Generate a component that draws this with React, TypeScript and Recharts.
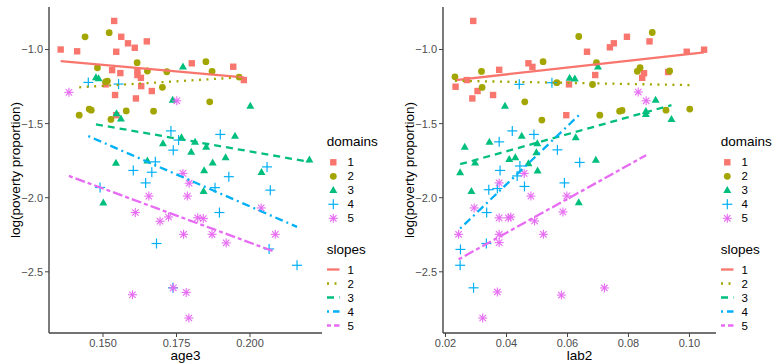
import { ScatterChart, Scatter, XAxis, YAxis } from 'recharts';

const FONT = '"Liberation Sans", Arial, sans-serif';
const COLORS = ['#F8766D', '#A3A500', '#00BF7D', '#00B0F6', '#E76BF3'];
const GROUPS = ['1', '2', '3', '4', '5'];
const SHAPES = ['square', 'circle', 'triangle', 'plus', 'asterisk'];
const DASHES = ['', '2 5.5', '7 5', '2 4 8 4', '4 3 10 3'];

// age3 panel, [x, log(poverty proportion)]
const age3D1 = [[0.1356, -1.0], [0.1412, -1.012], [0.1538, -0.807], [0.1562, -0.914], [0.1585, -0.958], [0.1608, -0.988], [0.1649, -0.945], [0.1545, -1.015], [0.1531, -1.139], [0.1559, -1.159], [0.1617, -1.143], [0.1617, -1.172], [0.1629, -1.191], [0.1509, -1.235], [0.163, -1.247], [0.1666, -1.28], [0.1541, -1.307], [0.1612, -1.33], [0.1545, -1.443], [0.1802, -1.093], [0.1943, -1.116], [0.1979, -1.206]];
const age3D2 = [[0.1439, -0.914], [0.1521, -0.886], [0.1481, -1.123], [0.1616, -1.089], [0.1651, -1.145], [0.1717, -1.15], [0.1509, -1.218], [0.1515, -1.213], [0.1702, -1.255], [0.1419, -1.443], [0.1453, -1.402], [0.146, -1.409], [0.1579, -1.414], [0.1527, -1.472], [0.1672, -1.416], [0.185, -1.082], [0.1871, -1.147], [0.1863, -1.353], [0.1963, -1.186]];
const age3D3 = [[0.1772, -1.116], [0.1476, -1.189], [0.1485, -1.196], [0.1737, -1.341], [0.2001, -1.38], [0.1546, -1.431], [0.1561, -1.466], [0.1767, -1.593], [0.1704, -1.634], [0.1813, -1.623], [0.1851, -1.657], [0.1949, -1.584], [0.18, -1.691], [0.1544, -1.765], [0.1651, -1.751], [0.1917, -1.728], [0.1873, -1.764], [0.1844, -1.816], [0.2039, -1.828], [0.1842, -1.956], [0.1501, -2.034], [0.2202, -1.743]];
const age3D4 = [[0.145, -1.222], [0.1553, -1.233], [0.1731, -1.549], [0.1757, -1.611], [0.1899, -1.573], [0.1739, -1.679], [0.1678, -1.758], [0.1603, -1.816], [0.1666, -1.828], [0.1645, -1.9], [0.1928, -1.858], [0.1881, -1.932], [0.149, -1.931], [0.2058, -1.792], [0.2069, -1.949], [0.1896, -2.1], [0.1682, -2.309], [0.1738, -2.608], [0.2065, -2.346], [0.216, -2.456]];
const age3D5 = [[0.1384, -1.289], [0.1751, -1.346], [0.1772, -1.836], [0.1793, -1.902], [0.1656, -1.989], [0.1787, -1.989], [0.161, -2.1], [0.1694, -2.159], [0.1723, -2.13], [0.1822, -2.135], [0.1841, -2.141], [0.1774, -2.247], [0.1871, -2.247], [0.1919, -2.305], [0.2038, -2.069], [0.2086, -2.247], [0.16, -2.655], [0.1739, -2.608], [0.1783, -2.639], [0.1792, -2.812]];
// fitted slopes: [x0, y0, x1, y1]
const age3Fits = [[0.1356, -1.078, 0.1979, -1.188], [0.1419, -1.255, 0.1963, -1.188], [0.1476, -1.505, 0.2202, -1.758], [0.145, -1.584, 0.216, -2.197], [0.1384, -1.853, 0.2086, -2.366]];

// lab2 panel
const lab2D1 = [[0.0291, -0.807], [0.0233, -1.251], [0.027, -1.206], [0.0288, -1.33], [0.0305, -1.28], [0.0356, -1.307], [0.0376, -1.137], [0.0472, -1.093], [0.0485, -1.117], [0.0605, -1.235], [0.0596, -1.443], [0.0664, -1.015], [0.0739, -0.985], [0.0752, -0.958], [0.0795, -0.914], [0.0869, -0.945], [0.0691, -1.172], [0.0851, -1.16], [0.0845, -1.191], [0.093, -1.152], [0.0991, -1.015], [0.1048, -1.001]];
const lab2D2 = [[0.0231, -1.184], [0.0318, -1.148], [0.032, -1.256], [0.052, -1.082], [0.0565, -1.224], [0.046, -1.353], [0.0516, -1.476], [0.0637, -0.912], [0.0695, -1.089], [0.0682, -1.236], [0.0706, -1.443], [0.0771, -1.416], [0.0779, -1.411], [0.0829, -1.147], [0.0838, -1.123], [0.0878, -0.885], [0.0935, -1.145], [0.0923, -1.409], [0.1001, -1.402]];
const lab2D3 = [[0.0395, -1.38], [0.0607, -1.191], [0.0624, -1.197], [0.07, -1.116], [0.0889, -1.341], [0.0857, -1.416], [0.0857, -1.436], [0.0941, -1.47], [0.0263, -1.657], [0.0344, -1.623], [0.045, -1.584], [0.0501, -1.634], [0.0627, -1.593], [0.0248, -1.83], [0.0297, -1.764], [0.0409, -1.74], [0.0429, -1.728], [0.0472, -1.769], [0.0498, -1.695], [0.0502, -1.817], [0.0693, -1.746], [0.0285, -1.956], [0.0637, -2.032]];
const lab2D4 = [[0.0442, -1.235], [0.0549, -1.224], [0.0419, -1.549], [0.049, -1.573], [0.0376, -1.623], [0.0567, -1.677], [0.064, -1.762], [0.0444, -1.786], [0.0379, -1.816], [0.0435, -1.853], [0.0459, -1.924], [0.0342, -1.946], [0.037, -1.938], [0.059, -1.9], [0.0335, -2.1], [0.0249, -2.349], [0.0334, -2.309], [0.0248, -2.456], [0.0292, -2.608]];
const lab2D5 = [[0.0458, -1.836], [0.0376, -1.9], [0.048, -1.989], [0.0598, -1.988], [0.0294, -2.069], [0.0376, -2.136], [0.0406, -2.136], [0.0414, -2.13], [0.0585, -2.096], [0.0492, -2.157], [0.0243, -2.247], [0.0376, -2.247], [0.0521, -2.247], [0.0376, -2.303], [0.037, -2.636], [0.0322, -2.812], [0.058, -2.657], [0.0721, -2.609], [0.0832, -1.287], [0.0858, -1.346]];
const lab2Fits = [[0.0233, -1.206, 0.1048, -1.019], [0.0231, -1.211, 0.1001, -1.24], [0.0248, -1.774, 0.0941, -1.375], [0.0248, -2.208, 0.064, -1.438], [0.0243, -2.416, 0.0858, -1.713]];

const Y_TICKS = [-2.5, -2.0, -1.5, -1.0];
const Y_DOMAIN = [-2.913, -0.713];

function drawMark(kind: string, color: string, cx: number, cy: number, key?: any) {
  switch (kind) {
    case 'square':
      return <rect key={key} x={cx - 3.2} y={cy - 3.2} width={6.4} height={6.4} fill={color} />;
    case 'circle':
      return <circle key={key} cx={cx} cy={cy} r={3.4} fill={color} />;
    case 'triangle':
      return <path key={key} d={`M${cx},${cy - 4.2}L${cx + 4},${cy + 2.8}L${cx - 4},${cy + 2.8}Z`} fill={color} />;
    case 'plus':
      return (
        <g key={key} stroke={color} strokeWidth={1.2}>
          <line x1={cx - 5} y1={cy} x2={cx + 5} y2={cy} />
          <line x1={cx} y1={cy - 5} x2={cx} y2={cy + 5} />
        </g>
      );
    default:
      return (
        <g key={key} stroke={color} strokeWidth={1.1}>
          <line x1={cx - 4.5} y1={cy} x2={cx + 4.5} y2={cy} />
          <line x1={cx} y1={cy - 4.5} x2={cx} y2={cy + 4.5} />
          <line x1={cx - 3.2} y1={cy - 3.2} x2={cx + 3.2} y2={cy + 3.2} />
          <line x1={cx - 3.2} y1={cy + 3.2} x2={cx + 3.2} y2={cy - 3.2} />
        </g>
      );
  }
}

const minus = (v: number, d: number) => (v < 0 ? '\u2212' : '') + Math.abs(v).toFixed(d);

function Legend({ left }: { left: number }) {
  return (
    <svg width={70} height={215} style={{ position: 'absolute', left, top: 125 }} fontFamily={FONT}>
      <text x={6.7} y={16.7} fontSize={13.5} dominantBaseline="central" fill="#000">domains</text>
      {GROUPS.map((g, i) => (
        <g key={'d' + g}>
          {drawMark(SHAPES[i], COLORS[i], 13.3, 37.3 + 14 * i)}
          <text x={27.5} y={37.3 + 14 * i} fontSize={11.5} dominantBaseline="central" fill="#000">{g}</text>
        </g>
      ))}
      <text x={6.7} y={124.3} fontSize={13.5} dominantBaseline="central" fill="#000">slopes</text>
      {GROUPS.map((g, i) => (
        <g key={'s' + g}>
          <line x1={7} x2={19.5} y1={144.5 + 14 * i} y2={144.5 + 14 * i} stroke={COLORS[i]} strokeWidth={2.3}
            strokeDasharray={DASHES[i] || undefined} />
          <text x={27.5} y={144.5 + 14 * i} fontSize={11.5} dominantBaseline="central" fill="#000">{g}</text>
        </g>
      ))}
    </svg>
  );
}

function Panel({ left, title, points, fits, domain, ticks, digits }: any) {
  return (
    <div style={{ position: 'absolute', left, top: 0 }}>
      <ScatterChart width={379} height={364} margin={{ top: 7, right: 57, bottom: 0, left: 0 }}>
        <XAxis
          type="number" dataKey="x" domain={domain} ticks={ticks} allowDataOverflow height={31}
          tickFormatter={(v: number) => v.toFixed(digits)} tickSize={4}
          tick={{ fill: '#4D4D4D', fontSize: 11, fontFamily: FONT }}
          tickLine={{ stroke: '#444' }} axisLine={{ stroke: '#444', strokeWidth: 1.4 }}
          label={() => (
            <text x={185.5} y={355} textAnchor="middle" dominantBaseline="central" fontSize={13.5} fontFamily={FONT} fill="#000">{title}</text>
          )}
        />
        <YAxis
          type="number" dataKey="y" domain={Y_DOMAIN} ticks={Y_TICKS} allowDataOverflow width={49}
          tickFormatter={(v: number) => minus(v, 1)} tickSize={4}
          tick={{ fill: '#4D4D4D', fontSize: 11, fontFamily: FONT }}
          tickLine={{ stroke: '#444' }} axisLine={{ stroke: '#444', strokeWidth: 1.4 }}
          label={() => (
            <text x={15} y={170} transform="rotate(-90 15 170)" textAnchor="middle" dominantBaseline="central" fontSize={13.5} fontFamily={FONT} fill="#000">log(poverty proportion)</text>
          )}
        />
        {points.map((pts: number[][], i: number) => (
          <Scatter
            key={'p' + i} data={pts.map(([x, y]) => ({ x, y }))} isAnimationActive={false}
            shape={(p: any) => drawMark(SHAPES[i], COLORS[i], p.cx, p.cy)}
          />
        ))}
        {fits.map((f: number[], i: number) => (
          <Scatter
            key={'f' + i} data={[{ x: f[0], y: f[1] }, { x: f[2], y: f[3] }]} isAnimationActive={false}
            line={{ stroke: COLORS[i], strokeWidth: 2.3, strokeDasharray: DASHES[i] || undefined }}
            shape={() => <g />}
          />
        ))}
      </ScatterChart>
    </div>
  );
}

export default function App() {
  return (
    <div style={{ position: 'absolute', left: 0, top: 0, width: 773, height: 364, background: '#fff', overflow: 'hidden' }}>
      <Panel left={0} title="age3" points={[age3D1, age3D2, age3D3, age3D4, age3D5]} fits={age3Fits}
        domain={[0.13163, 0.22449]} ticks={[0.15, 0.175, 0.2]} digits={3} />
      <Panel left={394} title="lab2" points={[lab2D1, lab2D2, lab2D3, lab2D4, lab2D5]} fits={lab2Fits}
        domain={[0.01918, 0.1087]} ticks={[0.02, 0.04, 0.06, 0.08, 0.1]} digits={2} />
      <Legend left={320} />
      <Legend left={714} />
    </div>
  );
}
